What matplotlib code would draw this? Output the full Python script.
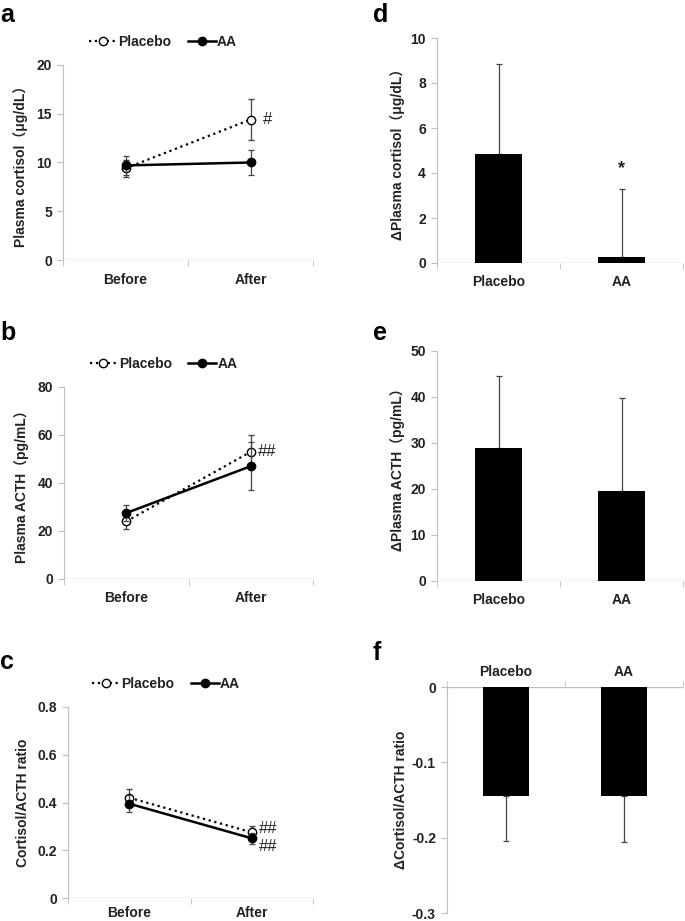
import matplotlib.pyplot as plt
from matplotlib.lines import Line2D

plt.rcParams['font.family'] = ['Liberation Sans', 'Noto Sans CJK JP', 'DejaVu Sans']
plt.rcParams['font.weight'] = 'bold'

# Data
times = ['Before', 'After']
groups = ['Placebo', 'AA']

cort_placebo = [9.4, 14.4]
cort_placebo_err = [0.9, 2.1]
cort_aa = [9.7, 10.0]
cort_aa_err = [1.0, 1.3]

acth_placebo = [24.0, 53.0]
acth_placebo_err = [3.0, 7.0]
acth_aa = [27.5, 47.0]
acth_aa_err = [3.5, 10.0]

ratio_placebo = [0.42, 0.275]
ratio_placebo_err = [0.035, 0.025]
ratio_aa = [0.395, 0.25]
ratio_aa_err = [0.035, 0.022]

d_cort = [4.85, 0.25]
d_cort_err = [4.0, 3.05]
d_acth = [29.0, 19.5]
d_acth_err = [15.5, 20.3]
d_ratio = [-0.145, -0.145]
d_ratio_err = [0.06, 0.061]

W, H = 685, 921
fig = plt.figure(figsize=(W / 100, H / 100), dpi=100)

grey = '#bfbfbf'
txt = '#222222'


def add_ax(left, right, top, bottom):
    return fig.add_axes([left / W, 1 - bottom / H, (right - left) / W, (bottom - top) / H])


def style(ax, ylim, yticks, yfmt=None, top=False):
    for s in ['right', 'top', 'bottom']:
        ax.spines[s].set_visible(False)
    ax.spines['left'].set_color(grey)
    ax.set_xlim(-0.5, 1.5)
    ax.set_ylim(*ylim)
    ax.set_yticks(yticks)
    if yfmt:
        ax.set_yticklabels([yfmt(v) for v in yticks])
    ax.tick_params(axis='y', length=4, color=grey, labelsize=10, labelcolor=txt, pad=4)
    ax.set_xticks([-0.5, 0.5, 1.5], minor=True)
    ax.tick_params(axis='x', which='minor', length=4, color=grey)
    ax.tick_params(axis='x', which='major', length=0, labelsize=10, labelcolor=txt, pad=9)
    # category axis line drawn at y=0
    ax.axhline(0, color=grey, lw=1, zorder=0.5)
    if top:
        ax.xaxis.tick_top()
        ax.tick_params(axis='x', which='minor', length=4, color=grey, top=True, bottom=False)
        ax.tick_params(axis='x', which='major', pad=6)
    for lab in ax.get_xticklabels() + ax.get_yticklabels():
        lab.set_fontweight('bold')


def line_panel(ax, pl, ple, aa, aae):
    x = [0, 1]
    ax.errorbar(x, pl, yerr=ple, fmt='o', ls=':', color='black', lw=1.6,
                mfc='white', mec='black', ms=6, mew=1,
                ecolor='#444444', elinewidth=0.9, capsize=2.5, capthick=0.9, zorder=3)
    ax.errorbar(x, aa, yerr=aae, fmt='o', ls='-', color='black', lw=1.8,
                mfc='black', mec='black', ms=6,
                ecolor='#444444', elinewidth=0.9, capsize=2.5, capthick=0.9, zorder=4)
    ax.set_xticks(x, times)
    handles = [Line2D([], [], ls=':', color='black', lw=1.6, marker='o', mfc='white', mec='black', ms=6),
               Line2D([], [], ls='-', color='black', lw=1.8, marker='o', mfc='black', ms=6)]
    leg = ax.legend(handles, groups, loc='center', bbox_to_anchor=(0.40, 1.12), ncol=2,
                    frameon=False, handlelength=2.0, handletextpad=0.1, columnspacing=1.2,
                    prop={'size': 10, 'weight': 'bold'})
    for t in leg.get_texts():
        t.set_color(txt)


def bar_panel(ax, vals, errs):
    x = [0, 1]
    ax.bar(x, vals, width=0.39, color='black', zorder=2)
    lo = [0 if v > 0 else e for v, e in zip(vals, errs)]
    hi = [e if v > 0 else 0 for v, e in zip(vals, errs)]
    ax.errorbar(x, vals, yerr=[lo, hi], fmt='none', ecolor='#444444', elinewidth=0.9,
                capsize=2.5, capthick=0.9, zorder=1)
    ax.set_xticks(x, groups)


ylab = dict(fontsize=10, color=txt, fontweight='bold')
hash_kw = dict(fontsize=12, color=txt, va='center', fontweight='normal')

# a
ax = add_ax(63, 313, 65, 260)
line_panel(ax, cort_placebo, cort_placebo_err, cort_aa, cort_aa_err)
style(ax, (0, 20), [0, 5, 10, 15, 20])
ax.set_ylabel('Plasma cortisol（μg/dL）', labelpad=6, **ylab)
ax.text(1.1, cort_placebo[1], '#', **hash_kw)
fig.text(0 / W, 1 - 15 / H, 'a', fontsize=18, fontweight='bold', va='center')

# b
ax = add_ax(64, 313, 387, 579)
line_panel(ax, acth_placebo, acth_placebo_err, acth_aa, acth_aa_err)
style(ax, (0, 80), [0, 20, 40, 60, 80])
ax.set_ylabel('Plasma ACTH（pg/mL）', labelpad=6, **ylab)
ax.text(1.06, acth_placebo[1], '##', **hash_kw)
fig.text(0 / W, 1 - 333 / H, 'b', fontsize=18, fontweight='bold', va='center')

# c
ax = add_ax(68, 313, 707, 898)
line_panel(ax, ratio_placebo, ratio_placebo_err, ratio_aa, ratio_aa_err)
style(ax, (0, 0.8), [0, 0.2, 0.4, 0.6, 0.8], yfmt=lambda v: '0' if v == 0 else f'{v:.1f}')
ax.tick_params(axis='x', which='major', pad=6)
ax.set_ylabel('Cortisol/ACTH ratio', labelpad=5, **ylab)
ax.text(1.06, 0.29, '##', **hash_kw)
ax.text(1.06, 0.215, '##', **hash_kw)
fig.text(0 / W, 1 - 662 / H, 'c', fontsize=18, fontweight='bold', va='center')

# d
ax = add_ax(437, 683, 38, 263)
bar_panel(ax, d_cort, d_cort_err)
style(ax, (0, 10), [0, 2, 4, 6, 8, 10])
ax.set_ylabel('ΔPlasma cortisol（μg/dL）', labelpad=4, **ylab)
ax.text(1, 4.2, '*', fontsize=13, color=txt, ha='center', va='center', fontweight='bold')
fig.text(373 / W, 1 - 15 / H, 'd', fontsize=18, fontweight='bold', va='center')

# e
ax = add_ax(437, 683, 351, 581)
bar_panel(ax, d_acth, d_acth_err)
style(ax, (0, 50), [0, 10, 20, 30, 40, 50])
ax.set_ylabel('ΔPlasma ACTH（pg/mL）', labelpad=4, **ylab)
fig.text(373 / W, 1 - 333 / H, 'e', fontsize=18, fontweight='bold', va='center')

# f
ax = add_ax(447, 683, 687, 913)
bar_panel(ax, d_ratio, d_ratio_err)
style(ax, (-0.3, 0), [-0.3, -0.2, -0.1, 0], yfmt=lambda v: '0' if v == 0 else f'{v:.1f}', top=True)
ax.set_ylabel('ΔCortisol/ACTH ratio', labelpad=3, **ylab)
fig.text(373 / W, 1 - 653 / H, 'f', fontsize=18, fontweight='bold', va='center')

fig.savefig('out.png', dpi=100, facecolor='white')
